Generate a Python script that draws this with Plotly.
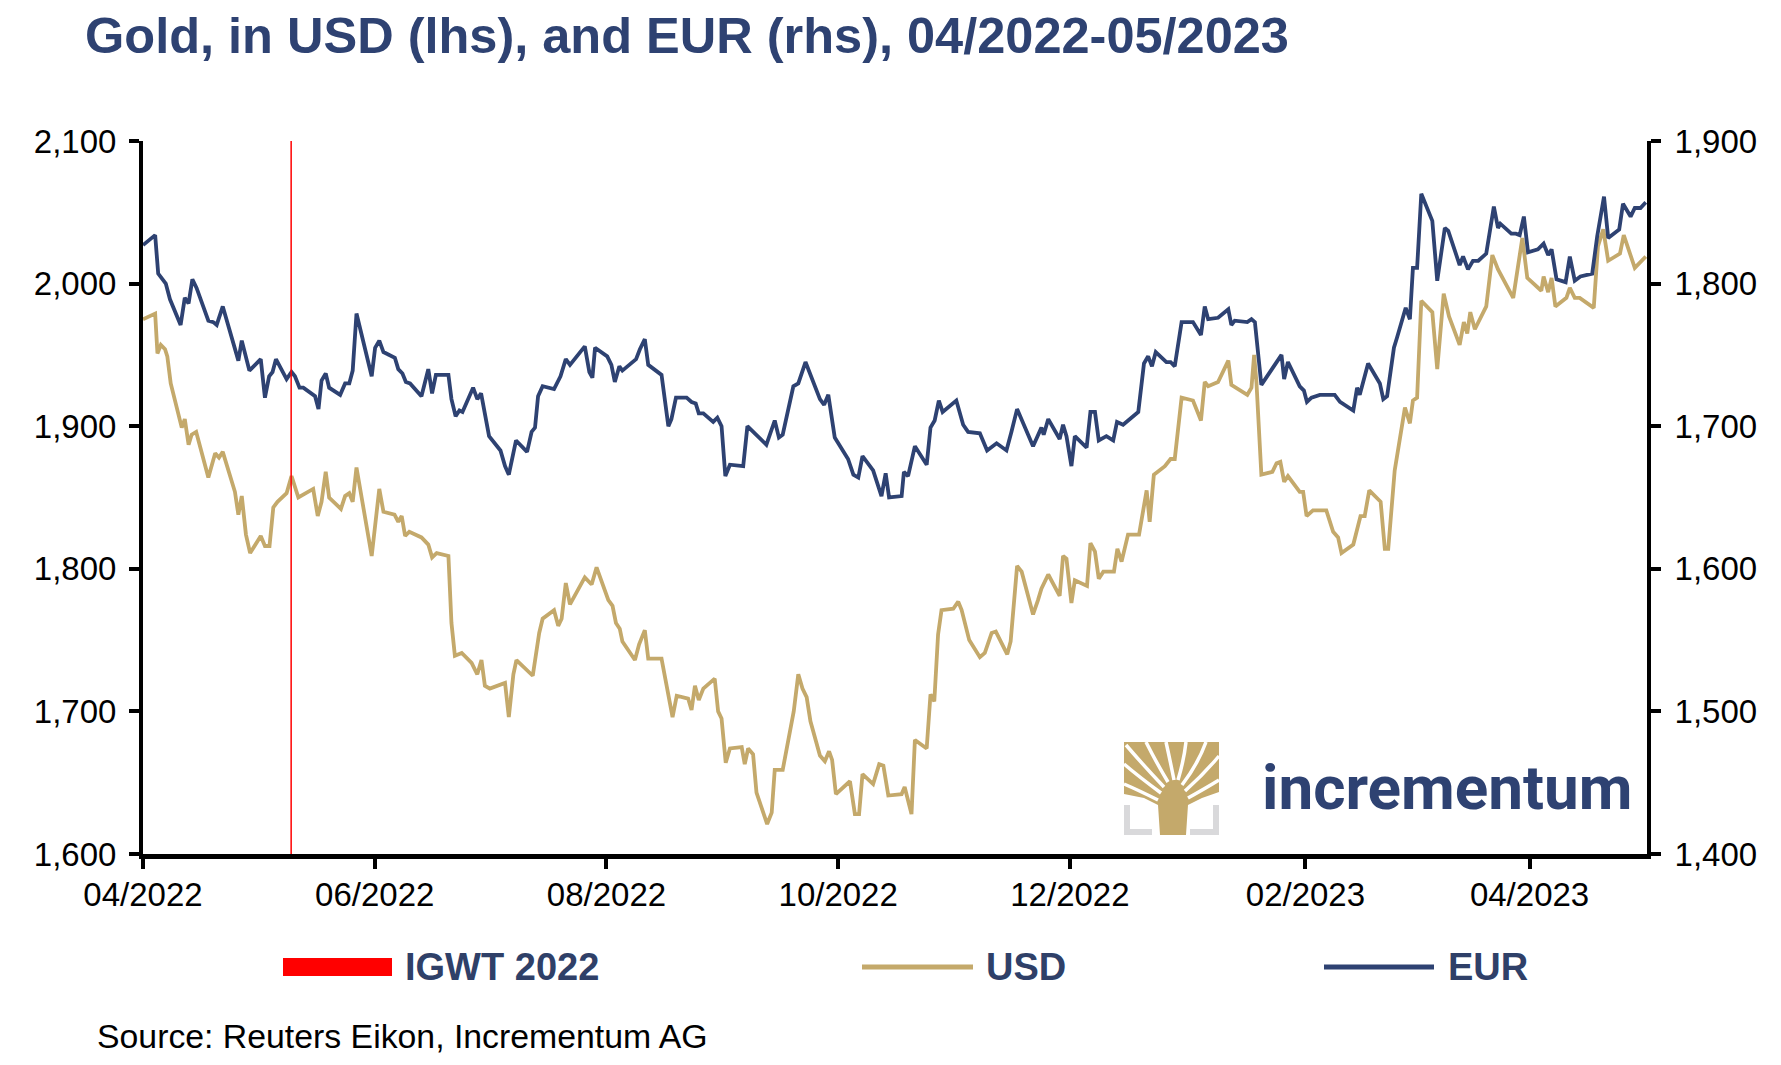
import pandas as pd
import plotly.graph_objects as go

# Gold, USD (lhs) and EUR (rhs)
start = pd.Timestamp('2022-04-01')

# dias desde 01/04/2022
usd_days = [0, 3.2, 3.8, 4.7, 5.8, 6.4, 7.3, 10.2, 11, 12, 12.8, 14, 17.2, 19, 20, 21, 24.2, 25.1, 26, 27.1,
            28.2, 31, 32.1, 33.3, 34.3, 35.4, 37.8, 39.1, 40.9, 44.8, 46, 47, 48.1, 49, 52.1, 53.2, 54.3, 55.2,
            56.2, 60.2, 62.2, 63.3, 66.2, 67.2, 68.1, 69, 70.1, 73.3, 75.1, 76.1, 77.3, 80.4, 81.2, 82.1, 83.9,
            86.5, 88, 89.1, 90, 91.3, 95.3, 96.3, 97.5, 98.3, 102.6, 103.3, 104.3, 105.2, 108.2, 109.3, 110.2,
            111.3, 112.4, 116.3, 118.1, 119.4, 122.5, 123.6, 124.5, 125.5, 126.2, 129.5, 130.6, 132.1, 133,
            136.5, 139.4, 140.5, 143.5, 144.4, 145.3, 146.3, 147.5, 150.5, 151.4, 152.3, 153.4, 154.5, 157.6,
            158.4, 159.3, 160.6, 161.5, 164.3, 165.5, 166.3, 168.4, 171.3, 172.5, 173.6, 174.7, 175.7, 178.2,
            179.5, 180.6, 181.4, 182.4, 186.1, 187.4, 188.5, 189.4, 192.2, 193.8, 194.9, 196.2, 199.7, 200.5,
            202.3, 203.2, 206.3, 207.3, 208.3, 209.3, 210.2, 213.3, 214.6, 215.5, 217.5, 220.3, 221.6, 223.4,
            224.5, 227.5, 228.4, 230.1, 231.3, 234.3, 235.6, 236.5, 238.3, 241.3, 242.2, 243.1, 244.4, 245.3,
            248.5, 249.4, 250.6, 251.6, 252.8, 255.6, 256.5, 257.6, 259.3, 262.2, 264.2, 265, 266.1, 269,
            270.5, 271.6, 273.4, 276.4, 278.5, 279.5, 280.4, 283, 285.7, 286.5, 290.7, 291.8, 292.5, 293.1,
            294.4, 297.3, 298.4, 299.4, 300.4, 301.4, 304.5, 305.4, 306.3, 308, 311.5, 313.3, 314.6, 315.5,
            318.6, 320.5, 321.6, 322.8, 325.8, 326.9, 327.8, 329.5, 332.2, 333.5, 334.3, 335.4, 336.5, 339.4,
            340.7, 342.4, 343.8, 346.6, 347.7, 348.6, 349.4, 350.6, 353.6, 355.2, 356.7, 360.7, 363.1, 364.4,
            368.1, 368.7, 369.9, 370.8, 371.8, 374.7, 375.6, 376.9, 378.2, 381.9, 383, 384.4, 385.7, 388.8,
            389.8, 391.4, 392.7, 395.6]
usd_vals = [1975, 1979, 1951, 1957, 1954, 1949, 1930, 1899, 1905, 1887, 1894, 1896, 1864, 1881, 1878, 1882,
            1854, 1838, 1851, 1824, 1811, 1823, 1816, 1816, 1843, 1847, 1853, 1865, 1850, 1856, 1837, 1847,
            1868, 1850, 1842, 1851, 1853, 1847, 1871, 1809, 1856, 1840, 1838, 1833, 1837, 1823, 1826, 1822,
            1817, 1808, 1811, 1809, 1762, 1739, 1741, 1734, 1726, 1736, 1718, 1716, 1720, 1696, 1726, 1736,
            1725, 1736, 1755, 1765, 1771, 1760, 1765, 1790, 1775, 1794, 1789, 1801, 1778, 1774, 1762, 1758,
            1749, 1736, 1747, 1757, 1737, 1737, 1696, 1711, 1709, 1701, 1718, 1708, 1716, 1723, 1700, 1695,
            1664, 1674, 1675, 1663, 1674, 1670, 1643, 1621, 1629, 1659, 1659, 1700, 1726, 1716, 1710, 1693,
            1669, 1665, 1672, 1666, 1642, 1651, 1628, 1628, 1656, 1649, 1663, 1662, 1641, 1642, 1647, 1628,
            1680, 1674, 1712, 1707, 1754, 1771, 1772, 1777, 1771, 1750, 1738, 1741, 1755, 1756, 1740, 1749,
            1802, 1798, 1768, 1778, 1786, 1796, 1781, 1809, 1807, 1776, 1792, 1788, 1818, 1812, 1793, 1798,
            1798, 1814, 1805, 1824, 1824, 1855, 1833, 1866, 1872, 1877, 1877, 1920, 1918, 1904, 1931, 1928,
            1931, 1946, 1929, 1922, 1927, 1950, 1931, 1866, 1868, 1874, 1875, 1861, 1865, 1854, 1854, 1837,
            1841, 1841, 1826, 1822, 1811, 1817, 1837, 1837, 1855, 1847, 1814, 1814, 1869, 1913, 1902, 1918,
            1920, 1988, 1980, 1940, 1993, 1977, 1957, 1973, 1965, 1980, 1968, 1984, 2020, 2010, 1990, 2032,
            2004, 1995, 2005, 1994, 2004, 1984, 1990, 1997, 1990, 1990, 1983, 2026, 2038, 2016, 2021, 2034,
            2022, 2011, 2019]

eur_days = [0, 3.2, 4, 6, 7.1, 9.9, 11, 12, 13, 14.1, 17.2, 18.5, 19.4, 21, 25.1, 26, 28, 31, 32.1, 33.2,
            34.1, 35, 37.8, 39.1, 40, 41.2, 42.2, 45.3, 46.2, 47, 48.1, 49, 51.9, 53.2, 54.3, 55.2, 56.2, 60.2,
            61.1, 62.2, 63.3, 66.3, 67.2, 68.3, 69.2, 70.3, 73.3, 75.1, 76.1, 77.1, 80.4, 81.2, 82.3, 83.3,
            84.1, 86.9, 88, 89, 91.1, 94.1, 95.3, 96.3, 98.2, 101.1, 102.3, 103.2, 104, 105.2, 108.2, 109.9,
            111.3, 112.4, 116.3, 117.5, 118.3, 119, 122.2, 123.3, 124.2, 125.4, 126.2, 129.8, 130.8, 132.1,
            133, 136.5, 138.3, 139.1, 140.3, 143.1, 144.4, 145.5, 146.3, 147.5, 150.1, 151.2, 152.3, 153.3,
            154.5, 158, 159.1, 164.1, 166.3, 167.4, 168.4, 171.2, 172.5, 174.4, 178.2, 179.3, 180.4, 182.1,
            185.6, 187, 188.3, 189.4, 192.2, 193.3, 194.4, 195.5, 196.4, 199.7, 200.3, 201.4, 203.2, 206.3,
            207.3, 208.4, 209.5, 210.5, 214.1, 215.9, 217.2, 220.3, 222.2, 224.7, 227.3, 228.6, 230.1, 234.3,
            236.5, 237.1, 238.3, 241.3, 242.2, 243.1, 244.4, 245.3, 248.4, 249.4, 250.6, 251.6, 253.6, 255.4,
            256.4, 258, 262, 263.5, 264.6, 265.6, 266.6, 269.4, 270.5, 271.6, 273.4, 276.4, 278.5, 279.5,
            280.4, 283, 285.7, 286.5, 287.4, 290.7, 291.8, 292.7, 294.4, 299.7, 300.4, 301.4, 304.5, 305.6,
            306.4, 307.6, 309.8, 313.7, 315.1, 318.6, 319.6, 320.3, 322.5, 325.6, 326.5, 327.5, 329.3, 330.1,
            332.4, 333.5, 334.3, 335.4, 336.5, 339.4, 340.7, 342.7, 343.6, 346.6, 347.5, 348.8, 350.1, 351.5,
            353.6, 355.6, 356.7, 357.3, 360.2, 361.4, 362.4, 363.5, 364.6, 367.2, 368.7, 369.9, 370.8, 372.1,
            374.5, 375.6, 376.9, 378.4, 381.5, 382.8, 384.6, 385.7, 388.6, 389.6, 391.6, 392.7, 394.2, 395.6]
eur_vals = [1827, 1834, 1807, 1800, 1789, 1771, 1790, 1786, 1803, 1797, 1774, 1773, 1771, 1784, 1746, 1760,
            1739, 1747, 1720, 1735, 1738, 1747, 1733, 1738, 1735, 1727, 1727, 1721, 1712, 1732, 1737, 1727,
            1722, 1730, 1730, 1739, 1779, 1735, 1755, 1760, 1752, 1748, 1740, 1737, 1731, 1730, 1721, 1740,
            1723, 1736, 1736, 1719, 1707, 1711, 1710, 1727, 1719, 1723, 1693, 1683, 1672, 1666, 1690, 1682,
            1696, 1699, 1721, 1728, 1726, 1735, 1747, 1743, 1756, 1738, 1734, 1755, 1749, 1743, 1731, 1742,
            1739, 1747, 1754, 1761, 1743, 1736, 1700, 1705, 1720, 1720, 1717, 1716, 1709, 1709, 1703, 1706,
            1700, 1665, 1673, 1672, 1700, 1687, 1704, 1692, 1694, 1728, 1730, 1745, 1719, 1715, 1722, 1692,
            1677, 1666, 1664, 1679, 1669, 1660, 1651, 1667, 1650, 1651, 1668, 1665, 1686, 1673, 1699, 1704,
            1718, 1710, 1718, 1701, 1696, 1695, 1683, 1688, 1683, 1696, 1712, 1686, 1699, 1694, 1705, 1691,
            1701, 1693, 1672, 1693, 1685, 1710, 1710, 1690, 1693, 1690, 1703, 1701, 1710, 1744, 1749, 1742,
            1752, 1745, 1745, 1742, 1773, 1773, 1764, 1784, 1775, 1776, 1782, 1771, 1774, 1773, 1775, 1773,
            1729, 1750, 1733, 1745, 1728, 1725, 1717, 1720, 1722, 1722, 1717, 1711, 1727, 1722, 1744, 1730,
            1719, 1721, 1755, 1762, 1783, 1775, 1811, 1811, 1863, 1844, 1802, 1839, 1837, 1813, 1819, 1810,
            1816, 1816, 1821, 1854, 1839, 1842, 1835, 1835, 1834, 1847, 1822, 1824, 1828, 1820, 1824, 1803,
            1801, 1819, 1802, 1805, 1807, 1833, 1861, 1832, 1838, 1856, 1847, 1853, 1853, 1857]

igwt_date = '2022-05-10'

tick_dates = ['2022-04-01', '2022-06-01', '2022-08-01', '2022-10-01', '2022-12-01', '2023-02-01', '2023-04-01']
tick_labels = ['04/2022', '06/2022', '08/2022', '10/2022', '12/2022', '02/2023', '04/2023']

usd_x = start + pd.to_timedelta(usd_days, unit='D')
eur_x = start + pd.to_timedelta(eur_days, unit='D')

gold = '#C4A96B'
navy = '#2E4272'
navy_txt = '#2F4068'
grey = '#D9D9DB'

# a pagina tem 8px de margem no body: tudo em pixels da pagina, menos OFF
OFF = 8
W, H = 1781 - OFF, 1065 - OFF
L, R, T, B = 143, 1647, 141, 854
def pxx(x):
    return (x - L) / (R - L)
def pxy(y):
    return (B - y) / (B - T)

fig = go.Figure()
fig.add_trace(go.Scatter(x=usd_x, y=usd_vals, name='USD', mode='lines',
                         line=dict(color=gold, width=3.8), yaxis='y'))
fig.add_trace(go.Scatter(x=eur_x, y=eur_vals, name='EUR', mode='lines',
                         line=dict(color=navy, width=3.8), yaxis='y2'))

shapes = []
# linha IGWT 2022
shapes.append(dict(type='line', xref='x', yref='paper', x0=igwt_date, x1=igwt_date, y0=0, y1=1,
                   line=dict(color='#FF0000', width=1.5)))

# legenda manual
shapes.append(dict(type='rect', xref='paper', yref='paper', x0=pxx(283), x1=pxx(392), y0=pxy(976), y1=pxy(958),
                   fillcolor='#FF0000', line=dict(width=0)))
shapes.append(dict(type='line', xref='paper', yref='paper', x0=pxx(862), x1=pxx(973), y0=pxy(967), y1=pxy(967),
                   line=dict(color=gold, width=5)))
shapes.append(dict(type='line', xref='paper', yref='paper', x0=pxx(1324), x1=pxx(1434), y0=pxy(967), y1=pxy(967),
                   line=dict(color=navy, width=5)))

# logo: cantoneiras cinza
for x0, x1, y0, y1 in [(1124, 1130, 805, 835), (1124, 1152, 829, 835), (1213, 1219, 805, 835), (1190, 1219, 829, 835)]:
    shapes.append(dict(type='rect', xref='paper', yref='paper', x0=pxx(x0), x1=pxx(x1), y0=pxy(y1), y1=pxy(y0),
                       fillcolor=grey, line=dict(width=0)))

# logo: arvore
canopy = [(1124, 742), (1219, 742), (1219, 792), (1202, 798), (1188, 805), (1186, 835),
          (1160, 835), (1158, 805), (1144, 798), (1124, 794)]
path = 'M ' + ' L '.join(f'{pxx(x):.5f},{pxy(y):.5f}' for x, y in canopy) + ' Z'
shapes.append(dict(type='path', xref='paper', yref='paper', path=path, fillcolor=gold, line=dict(width=0)))
branches = [((1158, 800), (1138, 790), (1124, 784)),
            ((1161, 793), (1138, 776), (1124, 764)),
            ((1164, 787), (1144, 766), (1126, 745)),
            ((1168, 782), (1156, 762), (1146, 742)),
            ((1174, 780), (1170, 760), (1166, 742)),
            ((1178, 780), (1184, 760), (1186, 742)),
            ((1182, 785), (1198, 764), (1206, 742)),
            ((1185, 791), (1204, 774), (1219, 756)),
            ((1188, 798), (1206, 788), (1219, 780))]
for p0, c, p1 in branches:
    path = (f'M {pxx(p0[0]):.5f},{pxy(p0[1]):.5f} Q {pxx(c[0]):.5f},{pxy(c[1]):.5f} '
            f'{pxx(p1[0]):.5f},{pxy(p1[1]):.5f}')
    shapes.append(dict(type='path', xref='paper', yref='paper', path=path, line=dict(color='white', width=3.5)))

annotations = [
    dict(text='<b>Gold, in USD (lhs), and EUR (rhs), 04/2022-05/2023</b>', x=pxx(83), y=pxy(36),
         font=dict(size=50.5, color=navy)),
    dict(text='<b>IGWT 2022</b>', x=pxx(403), y=pxy(967), font=dict(size=38, color=navy_txt)),
    dict(text='<b>USD</b>', x=pxx(984), y=pxy(967), font=dict(size=38, color=navy_txt)),
    dict(text='<b>EUR</b>', x=pxx(1446), y=pxy(967), font=dict(size=38, color=navy_txt)),
    dict(text='Source: Reuters Eikon, Incrementum AG', x=pxx(95), y=pxy(1036), font=dict(size=33.8, color='black')),
    dict(text='<b>incrementum</b>', x=pxx(1260), y=pxy(787), font=dict(size=62, color=navy, family='Roboto')),
]
for a in annotations:
    a.update(xref='paper', yref='paper', xanchor='left', yanchor='middle', showarrow=False)

axis_font = dict(size=33, color='black')
fig.update_layout(
    width=W, height=H,
    margin=dict(l=L - OFF, r=1781 - R, t=T - OFF, b=1065 - B),
    paper_bgcolor='white', plot_bgcolor='white',
    font=dict(family='Arial, Liberation Sans, sans-serif', color='black'),
    showlegend=False,
    shapes=shapes, annotations=annotations,
    xaxis=dict(type='date', range=['2022-04-01', '2023-05-01 22:00'],
               tickvals=tick_dates, ticktext=tick_labels, tickfont=axis_font,
               showgrid=False, zeroline=False, showline=True, linecolor='black', linewidth=5,
               ticks='outside', ticklen=10, tickwidth=4, tickcolor='black', ticklabelstandoff=-3),
    yaxis=dict(range=[1600, 2100], dtick=100, tickformat=',', tickfont=axis_font,
               showgrid=False, zeroline=False, showline=True, linecolor='black', linewidth=4,
               ticks='outside', ticklen=10, tickwidth=4, tickcolor='black', ticklabelstandoff=6),
    yaxis2=dict(range=[1400, 1900], dtick=100, tickformat=',', tickfont=axis_font, overlaying='y', side='right',
                showgrid=False, zeroline=False, showline=True, linecolor='black', linewidth=4,
                ticks='outside', ticklen=10, tickwidth=4, tickcolor='black', ticklabelstandoff=7),
)

fig.write_html('out.html')
